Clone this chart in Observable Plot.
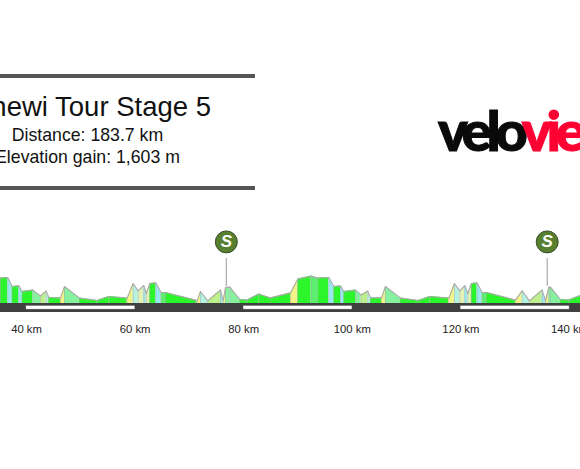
<!DOCTYPE html>
<html><head><meta charset="utf-8">
<script src="https://cdn.jsdelivr.net/npm/d3@7"></script>
<script src="https://cdn.jsdelivr.net/npm/@observablehq/plot@0.6"></script>
<style>
html,body{margin:0;padding:0;background:#fff;width:580px;height:469px;overflow:hidden;font-family:"Liberation Sans",Arial,sans-serif}
#head{position:relative;width:580px;height:225px;overflow:hidden}
#head div{position:absolute;white-space:nowrap;line-height:1}
.rule{left:0;width:255px;height:4.5px;background:#555}
.sub{left:-112.5px;width:400px;text-align:center;font-size:17.7px;color:#111}
#t{right:369px;top:93px;font-size:27.5px;color:#111}
#logo{left:438px;top:102px;font-size:56px;font-weight:900;font-family:Lato,sans-serif;letter-spacing:-5.2px;color:#0a0a0a;-webkit-text-stroke:1px currentColor}
#logo span{color:#ff0033}
svg{display:block}
</style></head><body>
<div id="head">
<div class="rule" style="top:73.5px"></div>
<div id="t">newi Tour Stage 5</div>
<div class="sub" style="top:127px">Distance: 183.7 km</div>
<div class="sub" style="top:149px">Elevation gain: 1,603 m</div>
<div class="rule" style="top:185.5px"></div>
<div id="logo">velo<span>view</span></div>
</div>
<div id="chart"></div>
<script>
const pointKm=[35.21,36.56,37.36,38.59,39.20,41.17,42.58,43.62,44.11,46.26,47.00,49.76,53.01,55.16,58.54,59.64,60.56,61.60,62.04,62.71,63.82,64.80,65.60,71.12,71.43,72.04,73.39,75.73,76.22,76.65,77.45,79.29,80.64,82.79,84.94,88.62,89.97,92.42,93.65,95.68,96.60,97.83,98.44,100.59,101.63,102.86,103.35,105.38,106.11,108.87,112.13,114.27,117.78,118.82,119.80,120.72,121.27,121.95,122.99,123.92,124.71,130.05,131.28,132.63,134.96,135.58,136.19,136.50,138.34,139.87,142.03];
const pointElevation=[127,130,85,88,60,67,38,62,30,27,85,27,15,35,27,100,63,90,50,100,103,55,55,17,13,60,13,68,13,80,82,20,17,48,28,53,122,137,127,130,85,88,60,67,43,62,28,28,85,27,15,35,27,100,63,90,50,100,103,55,55,17,63,13,68,13,80,82,20,17,40];
const segmentGrade=["flat","cyan","flat","cyan","flat","light","olive","pale","flat","yellow","light","flat","flat","flat","yellow","pale","cream","cyan","cream","flat","cyan","mid","flat","flat","yellow","pale","olive","cyan","yellow","light","light","flat","flat","flat","flat","yellow","flat","mid","flat","cyan","flat","cyan","flat","light","olive","pale","flat","yellow","light","flat","flat","flat","yellow","pale","cream","cyan","cream","flat","cyan","mid","flat","yellow","pale","olive","cyan","yellow","light","light","flat","flat"];
const gradeNames=["flat","mid","light","olive","cream","yellow","pale","cyan"];
const gradeColours=["#2bf52b","#5cee6e","#86f2a0","#bdf08c","#e2f2b4","#f2f48a","#b4f2e2","#98eaf0"];
const kmTicks=[40,60,80,100,120,140];
const lapBars=[[40,60],[80,100],[120,140]];
const sprintKm=[76.8,135.9];
const sprintLabel=["S","S"];

const segRows=segmentGrade.flatMap((g,i)=>[
  {seg:i,grade:g,km:pointKm[i],ele:pointElevation[i]},
  {seg:i,grade:g,km:pointKm[i+1],ele:pointElevation[i+1]}
]);
const profile=pointKm.map((km,i)=>({km,ele:pointElevation[i]}));
const sprints=sprintKm.map((km,i)=>({km,label:sprintLabel[i]}));

const plot=Plot.plot({
  width:580,height:244,
  marginLeft:0,marginRight:0,marginTop:0,marginBottom:157,
  x:{domain:[35.21,142.03],label:null},
  y:{domain:[-45,390],axis:null},
  color:{domain:gradeNames,range:gradeColours},
  marks:[
    Plot.area(segRows,{x1:"km",y1:0,y2:"ele",z:"seg",fill:"grade"}),
    Plot.ruleX(profile,{x:"km",y1:0,y2:"ele",stroke:"#aaa",strokeWidth:0.7,strokeOpacity:0.7}),
    Plot.line(profile,{x:"km",y:"ele",stroke:"#aaa",strokeWidth:1.1}),
    Plot.rect([0],{x1:35.21,x2:142.03,y1:-45,y2:0,fill:"#404040"}),
    Plot.rect(lapBars,{x1:d=>d[0],x2:d=>d[1],y1:-30,y2:-14,fill:"#fff",stroke:"#bbb",strokeWidth:0.4}),
    Plot.ruleX(sprints,{x:"km",y1:85,y2:225,stroke:"#aaa",strokeWidth:1.2}),
    Plot.dot(sprints,{x:"km",y:308,r:11,fill:"#567f2f",stroke:"#3f4f2a",strokeWidth:1}),
    Plot.text(sprints,{x:"km",y:308,text:"label",fill:"#fff",fontSize:17,fontWeight:"bold",fontStyle:"italic",fontFamily:"Liberation Sans"}),
    Plot.axisX({ticks:kmTicks,tickSize:0,tickPadding:12,tickFormat:d=>d+" km",fontSize:11.3,fontFamily:"Liberation Sans",fill:"#222",label:null})
  ]
});
document.getElementById("chart").appendChild(plot);
</script>
</body></html>
